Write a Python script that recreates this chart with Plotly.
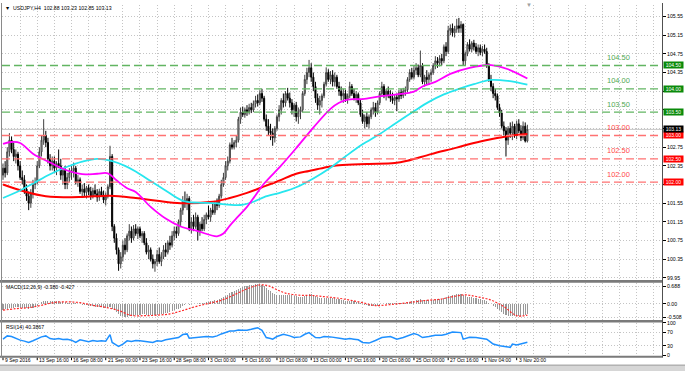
import plotly.graph_objects as go

# ---------------- data ----------------
bar_index = list(range(246))

opens = [102.15,102.30,102.20,102.65,102.90,102.70,102.55,102.60,102.35,102.10,
102.05,101.85,101.70,101.55,101.75,101.95,102.00,102.35,102.65,102.90,
103.00,102.85,102.50,102.35,102.45,102.30,102.40,102.35,102.15,102.25,
101.95,102.10,102.20,102.25,102.30,102.00,102.05,101.80,101.85,101.78,
101.88,101.80,101.70,101.82,101.75,101.68,101.80,101.72,101.62,101.70,
101.90,102.55,101.05,100.80,100.55,100.25,100.40,100.65,100.55,100.85,
100.95,100.80,101.00,100.90,101.00,100.85,100.90,100.70,100.50,100.55,
100.35,100.25,100.30,100.45,100.30,100.40,100.55,100.50,100.70,100.65,
100.85,100.95,100.90,101.15,101.40,101.60,101.55,101.65,101.00,101.15,
101.05,101.25,100.95,101.10,101.00,101.20,101.30,101.25,101.40,101.35,
101.55,101.50,101.70,101.95,102.10,102.35,102.45,102.80,102.75,102.85,
102.90,103.35,103.50,103.45,103.55,103.50,103.60,103.55,103.68,103.75,
103.70,103.90,103.80,103.35,103.20,103.10,103.05,102.95,103.15,103.40,
103.55,103.75,103.70,103.90,103.80,103.70,103.55,103.65,103.40,103.50,
103.55,103.90,104.20,104.35,104.45,104.25,104.05,103.80,103.65,103.75,
103.85,104.10,104.35,104.20,104.30,104.15,104.25,104.05,103.95,103.85,
103.90,103.78,103.85,104.05,103.90,103.80,103.88,103.70,103.45,103.30,
103.40,103.25,103.40,103.55,103.60,103.50,103.70,103.90,104.05,103.85,
103.95,103.85,103.80,103.75,103.82,103.78,103.92,103.85,103.95,103.98,
104.20,104.35,104.25,104.40,104.45,104.30,104.50,104.15,104.25,104.20,
104.30,104.35,104.50,104.60,104.55,104.65,104.60,104.90,104.80,105.25,
105.30,105.20,105.28,105.35,105.30,105.38,104.60,104.75,104.95,104.85,
104.98,104.90,104.80,104.88,104.78,104.85,104.80,104.50,104.20,104.05,
103.90,103.85,103.60,103.48,103.20,103.10,102.90,103.15,103.05,103.20,
103.00,103.25,103.10,102.95,103.20,102.88]

highs = [102.40,102.45,102.75,103.05,102.98,102.85,102.70,102.65,102.45,102.25,
102.15,101.95,101.80,101.85,102.05,102.10,102.45,102.75,103.00,103.35,
103.10,102.95,102.60,102.55,102.55,102.45,102.70,102.50,102.30,102.35,
102.20,102.30,102.35,102.42,102.35,102.15,102.10,101.95,101.98,101.92,
101.95,101.90,101.88,101.95,101.85,101.86,101.90,101.82,101.78,101.95,
102.78,102.60,101.10,100.90,100.60,100.50,100.75,100.80,100.90,101.10,
101.05,101.08,101.10,101.05,101.05,100.95,100.95,100.80,100.65,100.60,
100.45,100.35,100.55,100.60,100.50,100.65,100.70,100.75,100.85,100.95,
101.05,101.05,101.20,101.45,101.70,101.80,101.75,101.70,101.25,101.30,
101.35,101.30,101.15,101.25,101.30,101.35,101.50,101.45,101.55,101.60,
101.65,101.75,102.05,102.20,102.45,102.55,102.85,102.95,102.90,103.00,
103.40,103.60,103.62,103.60,103.65,103.68,103.70,103.75,103.85,103.88,
103.97,104.00,103.85,103.45,103.35,103.25,103.15,103.20,103.45,103.65,
103.80,103.90,103.95,104.02,103.92,103.78,103.70,103.72,103.60,103.62,
103.95,104.30,104.45,104.62,104.55,104.35,104.15,103.90,103.85,103.90,
104.15,104.46,104.42,104.38,104.40,104.35,104.30,104.15,104.05,104.00,
103.98,103.90,104.15,104.10,104.00,103.95,103.92,103.78,103.55,103.45,
103.50,103.45,103.60,103.72,103.70,103.75,103.95,104.15,104.10,104.00,
104.05,103.97,103.92,103.88,103.90,103.98,104.00,104.02,104.05,104.25,
104.42,104.45,104.50,104.55,104.52,104.82,104.55,104.30,104.40,104.35,
104.42,104.55,104.70,104.68,104.72,104.75,104.95,105.00,105.35,105.38,
105.40,105.35,105.50,105.52,105.45,105.40,104.80,105.00,105.06,105.02,
105.05,104.98,104.95,104.95,104.92,104.95,104.88,104.55,104.30,104.12,
104.00,103.90,103.68,103.55,103.30,103.18,103.20,103.28,103.30,103.25,
103.32,103.35,103.22,103.30,103.28,103.23]

lows = [102.05,102.10,102.15,102.55,102.62,102.45,102.40,102.25,102.05,101.95,
101.75,101.60,101.40,101.45,101.65,101.85,101.95,102.30,102.55,102.80,
102.75,102.40,102.25,102.25,102.20,102.15,102.30,102.05,101.95,101.85,
101.85,102.00,102.05,102.10,101.95,101.90,101.75,101.68,101.70,101.65,
101.72,101.62,101.65,101.70,101.58,101.60,101.68,101.55,101.50,101.65,
101.85,100.95,100.70,100.45,100.10,100.15,100.30,100.45,100.50,100.75,
100.70,100.75,100.85,100.78,100.80,100.70,100.65,100.45,100.35,100.30,
100.15,100.08,100.20,100.25,100.20,100.35,100.40,100.45,100.55,100.60,
100.75,100.80,100.85,101.05,101.30,101.45,101.40,100.95,100.90,100.95,
101.00,100.75,100.85,100.95,100.95,101.10,101.20,101.15,101.30,101.30,
101.40,101.45,101.65,101.90,102.05,102.25,102.40,102.70,102.70,102.75,
102.85,103.25,103.40,103.38,103.42,103.45,103.48,103.50,103.60,103.62,
103.65,103.72,103.30,103.10,103.00,102.90,102.78,102.85,103.10,103.30,
103.45,103.60,103.62,103.75,103.60,103.45,103.40,103.30,103.25,103.35,
103.50,103.85,104.10,104.25,104.15,103.95,103.70,103.55,103.45,103.60,
103.80,104.05,104.15,104.10,104.05,104.05,104.00,103.85,103.75,103.70,
103.72,103.68,103.80,103.85,103.75,103.70,103.65,103.40,103.25,103.15,
103.18,103.15,103.35,103.45,103.40,103.45,103.65,103.85,103.80,103.75,
103.80,103.72,103.68,103.65,103.52,103.72,103.78,103.80,103.85,103.92,
104.15,104.20,104.20,104.30,104.25,104.25,104.10,104.05,104.10,104.08,
104.15,104.30,104.42,104.45,104.48,104.50,104.55,104.70,104.75,105.15,
105.12,105.10,105.20,105.20,105.20,104.50,104.50,104.70,104.80,104.78,
104.82,104.75,104.70,104.72,104.70,104.75,104.45,104.15,103.95,103.80,
103.75,103.55,103.40,103.15,103.00,102.55,102.80,102.95,102.90,102.95,
102.92,103.05,102.88,102.90,102.85,102.85]

closes = [102.30,102.20,102.65,102.90,102.70,102.55,102.60,102.35,102.10,102.05,
101.85,101.70,101.55,101.75,101.95,102.00,102.35,102.65,102.90,103.00,
102.85,102.50,102.35,102.45,102.30,102.40,102.35,102.15,102.25,101.95,
102.10,102.20,102.25,102.30,102.00,102.05,101.80,101.85,101.78,101.88,
101.80,101.70,101.82,101.75,101.68,101.80,101.72,101.62,101.70,101.90,
102.55,101.05,100.80,100.55,100.25,100.40,100.65,100.55,100.85,100.95,
100.80,101.00,100.90,101.00,100.85,100.90,100.70,100.50,100.55,100.35,
100.25,100.30,100.45,100.30,100.40,100.55,100.50,100.70,100.65,100.85,
100.95,100.90,101.15,101.40,101.60,101.55,101.65,101.00,101.15,101.05,
101.25,100.95,101.10,101.00,101.20,101.30,101.25,101.40,101.35,101.55,
101.50,101.70,101.95,102.10,102.35,102.45,102.80,102.75,102.85,102.90,
103.35,103.50,103.45,103.55,103.50,103.60,103.55,103.68,103.75,103.70,
103.90,103.80,103.35,103.20,103.10,103.05,102.95,103.15,103.40,103.55,
103.75,103.70,103.90,103.80,103.70,103.55,103.65,103.40,103.50,103.55,
103.90,104.20,104.35,104.45,104.25,104.05,103.80,103.65,103.75,103.85,
104.10,104.35,104.20,104.30,104.15,104.25,104.05,103.95,103.85,103.90,
103.78,103.85,104.05,103.90,103.80,103.88,103.70,103.45,103.30,103.40,
103.25,103.40,103.55,103.60,103.50,103.70,103.90,104.05,103.85,103.95,
103.85,103.80,103.75,103.82,103.78,103.92,103.85,103.95,103.98,104.20,
104.35,104.25,104.40,104.45,104.30,104.50,104.15,104.25,104.20,104.30,
104.35,104.50,104.60,104.55,104.65,104.60,104.90,104.80,105.25,105.30,
105.20,105.28,105.35,105.30,105.38,104.60,104.75,104.95,104.85,104.98,
104.90,104.80,104.88,104.78,104.85,104.80,104.50,104.20,104.05,103.90,
103.85,103.60,103.48,103.20,103.10,102.90,103.15,103.05,103.20,103.00,
103.25,103.10,102.95,103.20,102.88,103.13]

# moving averages (read at sample bars)
ma_red_bars = [0,10,20,36,50,62,72,83,98,106,114,121,129,137,143,150,157,170,183,189,200,212,220,228,235,245]
ma_red_vals = [101.95,101.80,101.70,101.68,101.71,101.66,101.60,101.55,101.58,101.66,101.77,101.89,102.03,102.18,102.24,102.31,102.36,102.39,102.41,102.46,102.60,102.74,102.84,102.92,102.98,103.03]

ma_cyan_bars = [0,7,14,22,30,37,44,51,57,62,68,75,84,91,98,105,111,117,122,130,137,145,153,160,168,176,184,192,199,206,213,220,228,236,245]
ma_cyan_vals = [101.66,101.80,101.97,102.17,102.33,102.44,102.50,102.45,102.35,102.23,102.05,101.85,101.60,101.56,101.55,101.52,101.51,101.58,101.68,101.78,101.89,102.08,102.31,102.55,102.81,103.03,103.28,103.52,103.72,103.88,104.00,104.10,104.19,104.17,104.09]

ma_mag_bars = [0,4,8,14,22,30,37,44,49,53,58,62,69,76,83,91,100,103,106,110,114,118,122,130,137,145,153,157,161,168,176,184,192,196,202,209,218,228,236,245]
ma_mag_vals = [102.82,102.86,102.84,102.61,102.42,102.25,102.17,102.18,102.19,102.04,101.87,101.79,101.47,101.22,101.05,100.95,100.84,100.90,101.07,101.27,101.47,101.72,101.97,102.36,102.73,103.17,103.57,103.70,103.77,103.78,103.84,103.88,103.94,104.05,104.15,104.32,104.45,104.51,104.42,104.22]

macd_hist = [-0.22,-0.21,-0.19,-0.15,-0.14,-0.14,-0.13,-0.13,-0.14,-0.15,
-0.16,-0.17,-0.18,-0.17,-0.14,-0.11,-0.06,0.00,0.06,0.11,
0.13,0.13,0.12,0.12,0.11,0.10,0.10,0.09,0.08,0.06,
0.05,0.04,0.04,0.03,0.02,0.01,-0.01,-0.03,-0.04,-0.05,
-0.06,-0.08,-0.09,-0.10,-0.11,-0.12,-0.13,-0.14,-0.15,-0.14,
-0.10,-0.18,-0.25,-0.32,-0.40,-0.45,-0.48,-0.50,-0.49,-0.47,
-0.46,-0.45,-0.43,-0.42,-0.41,-0.40,-0.40,-0.41,-0.41,-0.42,
-0.42,-0.42,-0.41,-0.40,-0.39,-0.37,-0.35,-0.33,-0.30,-0.27,
-0.24,-0.21,-0.18,-0.14,-0.09,-0.05,-0.02,-0.03,-0.02,-0.01,
0.00,0.01,0.02,0.03,0.04,0.06,0.08,0.10,0.12,0.14,
0.16,0.18,0.22,0.26,0.31,0.36,0.42,0.46,0.50,0.53,
0.58,0.63,0.66,0.69,0.71,0.72,0.73,0.74,0.75,0.76,
0.76,0.74,0.68,0.61,0.55,0.48,0.42,0.38,0.36,0.35,
0.35,0.35,0.36,0.36,0.35,0.33,0.32,0.30,0.28,0.27,
0.28,0.31,0.34,0.37,0.37,0.35,0.31,0.27,0.24,0.22,
0.22,0.24,0.24,0.24,0.23,0.22,0.21,0.19,0.17,0.15,
0.13,0.12,0.12,0.11,0.10,0.09,0.07,0.04,0.00,-0.03,
-0.05,-0.07,-0.08,-0.08,-0.07,-0.06,-0.04,-0.01,0.01,0.02,
0.03,0.03,0.03,0.03,0.02,0.03,0.03,0.04,0.05,0.07,
0.09,0.11,0.13,0.15,0.16,0.18,0.17,0.16,0.16,0.16,
0.16,0.17,0.18,0.19,0.20,0.21,0.23,0.25,0.29,0.32,
0.34,0.36,0.37,0.38,0.38,0.33,0.30,0.28,0.27,0.26,
0.24,0.22,0.20,0.18,0.16,0.14,0.10,0.04,-0.02,-0.08,
-0.13,-0.19,-0.25,-0.31,-0.37,-0.44,-0.46,-0.48,-0.48,-0.47,
-0.47,-0.46,-0.45,-0.43,-0.42,-0.38]

macd_sig_bars = [0,6,12,18,24,30,36,42,48,54,60,66,72,78,84,90,96,102,108,114,120,124,128,132,138,144,150,156,162,168,174,180,186,192,198,204,210,216,222,228,234,240,245]
macd_sig_vals = [-0.24,-0.18,-0.14,-0.05,0.06,0.08,0.05,-0.05,-0.13,-0.25,-0.44,-0.45,-0.43,-0.38,-0.25,-0.10,0.02,0.14,0.35,0.58,0.73,0.70,0.55,0.42,0.34,0.33,0.28,0.23,0.15,0.05,-0.06,-0.03,0.02,0.08,0.14,0.18,0.28,0.35,0.27,0.15,-0.10,-0.45,-0.427]

rsi_bars = [0,2,4,6,8,10,12,14,16,18,20,22,24,26,28,30,32,34,36,38,40,42,44,46,48,50,51,53,54,56,58,60,62,64,66,68,70,72,74,76,78,80,82,84,86,87,89,92,95,98,100,102,104,106,108,110,112,114,116,119,121,123,125,126,128,131,134,136,139,141,143,145,146,148,150,153,156,158,160,162,164,166,168,171,174,177,181,184,187,190,192,194,196,199,202,205,207,210,212,214,215,218,221,224,226,228,229,232,234,236,237,238,240,242,244,245]
rsi_vals = [50,60,58,52,47,44,40,45,52,57,60,52,50,52,49,50,47,40,48,45,42,46,44,45,44,64,40,32,28,35,45,43,46,45,43,40,40,45,44,48,50,51,55,64,66,53,54,55,58,57,60,66,70,75,75,78,77,77,80,85,77,55,52,50,58,65,60,55,57,65,70,60,55,54,58,57,55,52,50,52,50,48,40,38,46,55,58,50,55,62,67,63,55,58,62,62,65,72,71,70,50,56,55,53,50,40,35,30,27,26,25,35,32,35,37,40.39]

x_label_bars = [0,16,32,48,64,80,96,112,128,144,160,176,192,208,224,240]
x_label_text = ["9 Sep 2016","13 Sep 16:00","16 Sep 08:00","21 Sep 00:00","23 Sep 16:00",
                "28 Sep 08:00","3 Oct 00:00","5 Oct 16:00","10 Oct 08:00","13 Oct 00:00",
                "17 Oct 16:00","20 Oct 08:00","25 Oct 00:00","27 Oct 16:00","1 Nov 04:00","3 Nov 20:00"]
grid_bars = list(range(0, 312, 8))

price_ticks = [105.55,105.15,104.75,104.35,103.95,103.55,103.15,102.75,102.35,101.95,101.55,101.15,100.75,100.35,99.95]
price_hidden = [103.95, 103.55, 103.15, 101.95]   # covered by the level boxes
macd_ticks = [0.688, 0.0, -0.508]
macd_tick_text = ["0.688", "0.00", "-0.508"]
rsi_ticks = [100, 70, 30, 0]

levels_green = [104.50, 104.00, 103.50]
levels_red = [103.00, 102.50, 102.00]
last_price = 103.13

title_text = "▼  USDJPY,H4  102.88 103.23 102.85 103.13"
macd_text = "MACD(12,26,9) -0.380 -0.427"
rsi_text = "RSI(14) 40.3867"

# ---------------- figure ----------------
W, H = 685, 374
def px(x): return x / W
def py(y): return 1 - y / H

FONT = "Liberation Sans, Arial, sans-serif"
GRID = "#c4c4c4"
SMALL = 5.2

fig = go.Figure()
fig.add_trace(go.Candlestick(
    x=bar_index, open=opens, high=highs, low=lows, close=closes,
    xaxis="x", yaxis="y", whiskerwidth=0,
    increasing=dict(line=dict(color="#404040", width=1), fillcolor="#cfcfcf"),
    decreasing=dict(line=dict(color="#000000", width=1), fillcolor="#000000"),
    showlegend=False, hoverinfo="skip"))
fig.add_trace(go.Scatter(x=ma_red_bars, y=ma_red_vals, mode="lines", xaxis="x", yaxis="y",
    line=dict(color="#ff0000", width=2, shape="spline"), showlegend=False, hoverinfo="skip"))
fig.add_trace(go.Scatter(x=ma_cyan_bars, y=ma_cyan_vals, mode="lines", xaxis="x", yaxis="y",
    line=dict(color="#27e6ee", width=1.8, shape="spline"), showlegend=False, hoverinfo="skip"))
fig.add_trace(go.Scatter(x=ma_mag_bars, y=ma_mag_vals, mode="lines", xaxis="x", yaxis="y",
    line=dict(color="#ff00ff", width=1.8, shape="spline"), showlegend=False, hoverinfo="skip"))

fig.add_trace(go.Bar(x=bar_index, y=macd_hist, width=0.5, xaxis="x2", yaxis="y2",
    marker=dict(color="#999999", line=dict(width=0)), showlegend=False, hoverinfo="skip"))
fig.add_trace(go.Scatter(x=macd_sig_bars, y=macd_sig_vals, mode="lines", xaxis="x2", yaxis="y2",
    line=dict(color="#ff2a2a", width=1.2, dash="2px,1.5px", shape="spline"), showlegend=False, hoverinfo="skip"))

fig.add_trace(go.Scatter(x=rsi_bars, y=rsi_vals, mode="lines", xaxis="x3", yaxis="y3",
    line=dict(color="#1e90ff", width=1.5), showlegend=False, hoverinfo="skip"))

xr = [-0.467, 307.9]
xcommon = dict(domain=[px(2), px(662)], range=xr, tickvals=grid_bars, showticklabels=False,
               ticks="", showgrid=True, gridcolor=GRID, griddash="1px,2px", gridwidth=1,
               zeroline=False, showline=False, fixedrange=True)
ycommon = dict(side="right", showgrid=True, gridcolor=GRID, griddash="1px,2px", gridwidth=1,
               zeroline=False, showline=True, linecolor="#505050", linewidth=1,
               ticks="outside", ticklen=3, tickcolor="#000", tickwidth=1,
               tickfont=dict(family=FONT, size=SMALL, color="#000"), fixedrange=True)

fig.update_layout(
    width=W, height=H, autosize=False,
    margin=dict(l=0, r=0, t=0, b=0),
    paper_bgcolor="white", plot_bgcolor="white",
    showlegend=False, bargap=0,
    xaxis=dict(anchor="y", rangeslider=dict(visible=False), **xcommon),
    xaxis2=dict(anchor="y2", matches="x", **xcommon),
    xaxis3=dict(anchor="y3", matches="x", **xcommon),
    yaxis=dict(anchor="x", domain=[py(281), py(2)], range=[99.914, 105.797],
               tickvals=price_ticks,
               ticktext=["" if v in price_hidden else "%.2f" % v for v in price_ticks], **ycommon),
    yaxis2=dict(anchor="x2", domain=[py(322), py(284.5)], range=[-0.61, 0.809],
                tickvals=macd_ticks, ticktext=macd_tick_text, **ycommon),
    yaxis3=dict(anchor="x3", domain=[py(358.3), py(325)], range=[0, 100],
                tickvals=rsi_ticks, ticktext=[str(v) for v in rsi_ticks], **ycommon),
)

shapes = []
for lv in levels_green:
    shapes.append(dict(type="line", xref="paper", yref="y", x0=px(2), x1=px(662), y0=lv, y1=lv,
                       line=dict(color="#62b562", width=1.3, dash="8px,4px"), layer="above"))
for lv in levels_red:
    shapes.append(dict(type="line", xref="paper", yref="y", x0=px(2), x1=px(662), y0=lv, y1=lv,
                       line=dict(color="#ff7272", width=1.3, dash="8px,4px"), layer="above"))
shapes.append(dict(type="line", xref="paper", yref="y", x0=px(2), x1=px(662), y0=last_price, y1=last_price,
                   line=dict(color="#c8c8c8", width=1), layer="below"))
for y0, y1 in [(281.6, 284.2), (322.2, 324.6), (358.6, 360.6)]:
    shapes.append(dict(type="rect", xref="paper", yref="paper", x0=0, x1=px(663), y0=py(y1), y1=py(y0),
                       line=dict(width=0), fillcolor="#7a7a7a", layer="above"))
shapes.append(dict(type="line", xref="paper", yref="paper", x0=px(662.5), x1=px(662.5), y0=py(360), y1=1,
                   line=dict(color="#505050", width=1), layer="above"))
shapes.append(dict(type="line", xref="paper", yref="paper", x0=px(1.5), x1=px(1.5), y0=py(360), y1=1,
                   line=dict(color="#8a8a8a", width=1), layer="above"))
shapes.append(dict(type="rect", xref="paper", yref="paper", x0=0, x1=1, y0=0, y1=py(368),
                   line=dict(width=0), fillcolor="#d6d6d6", layer="above"))
shapes.append(dict(type="line", xref="paper", yref="paper", x0=0, x1=1, y0=py(368), y1=py(368),
                   line=dict(color="#9a9a9a", width=1), layer="above"))
for b in x_label_bars:
    shapes.append(dict(type="line", xref="x", yref="paper", x0=b, x1=b, y0=py(363), y1=py(360.5),
                       line=dict(color="#000", width=1), layer="above"))
fig.update_layout(shapes=shapes)

ann = []
ann.append(dict(text=title_text, xref="paper", yref="paper", x=px(3), y=py(5), xanchor="left",
                yanchor="middle", showarrow=False, font=dict(family=FONT, size=SMALL, color="#000")))
ann.append(dict(text=macd_text, xref="paper", yref="paper", x=px(4), y=py(289), xanchor="left",
                yanchor="middle", showarrow=False, font=dict(family=FONT, size=SMALL, color="#000")))
ann.append(dict(text=rsi_text, xref="paper", yref="paper", x=px(4), y=py(329.5), xanchor="left",
                yanchor="middle", showarrow=False, font=dict(family=FONT, size=SMALL, color="#000")))
ann.append(dict(text="▼", xref="paper", yref="paper", x=px(529), y=py(2.5), xanchor="center",
                yanchor="middle", showarrow=False, font=dict(family=FONT, size=6, color="#a0a0a0")))
for lv in levels_green:
    ann.append(dict(text="%.2f" % lv, xref="paper", yref="y", x=px(618), y=lv, yshift=8,
                    xanchor="center", yanchor="middle", showarrow=False,
                    font=dict(family=FONT, size=7.5, color="#52a852")))
    ann.append(dict(text="%.2f" % lv, xref="paper", yref="y", x=px(663), y=lv, xanchor="left",
                    yanchor="middle", showarrow=False, bgcolor="#0a8a0a", width=19, height=6,
                    borderpad=0, font=dict(family=FONT, size=5, color="#ffffff")))
for lv in levels_red:
    ann.append(dict(text="%.2f" % lv, xref="paper", yref="y", x=px(618), y=lv, yshift=8,
                    xanchor="center", yanchor="middle", showarrow=False,
                    font=dict(family=FONT, size=7.5, color="#ff4a4a")))
    ann.append(dict(text="%.2f" % lv, xref="paper", yref="y", x=px(663), y=lv, xanchor="left",
                    yanchor="middle", showarrow=False, bgcolor="#ff0000", width=19, height=6,
                    borderpad=0, font=dict(family=FONT, size=5, color="#ffffff")))
ann.append(dict(text="%.2f" % last_price, xref="paper", yref="y", x=px(663), y=last_price, xanchor="left",
                yanchor="middle", showarrow=False, bgcolor="#000000", width=19, height=6,
                borderpad=0, font=dict(family=FONT, size=5, color="#ffffff")))
for b, t in zip(x_label_bars, x_label_text):
    ann.append(dict(text=t, xref="x", yref="paper", x=b, y=py(363), xanchor="left", yanchor="middle",
                    xshift=0, showarrow=False, font=dict(family=FONT, size=5.0, color="#000")))
fig.update_layout(annotations=ann)

fig.write_html("out.html", config={"displayModeBar": False, "staticPlot": True},
               post_script="document.body.style.margin='0';document.body.style.overflow='hidden';")
